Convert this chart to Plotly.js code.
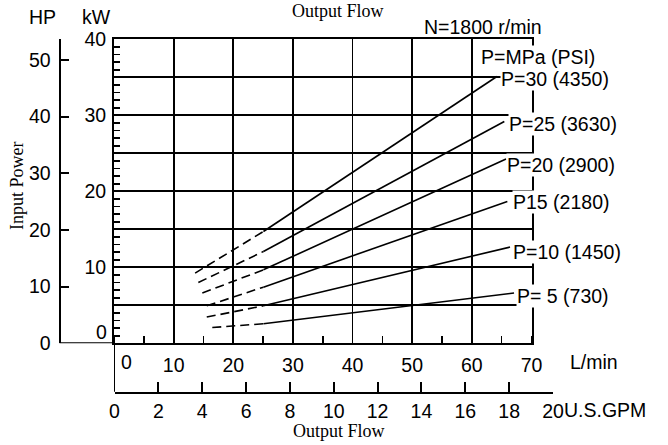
<!DOCTYPE html>
<html>
<head>
<meta charset="utf-8">
<script src="https://cdn.plot.ly/plotly-3.0.1.min.js"></script>
<style>html,body{margin:0;padding:0;background:#fff;}#chart{width:668px;height:445px;}</style>
</head>
<body>
<div id="chart"></div>
<script>
// ---- data ----
const flowTicks = [0, 10, 20, 30, 40, 50, 60, 70];
const flowTickText = ['', '10', '20', '30', '40', '50', '60', '70'];
const kwTicks = [0, 5, 10, 15, 20, 25, 30, 35, 40];
const kwTickText = ['', '', '10', '', '20', '', '30', '', '40'];
const hpTicks = [0, 10, 20, 30, 40, 50];
const gpmTicks = [0, 2, 4, 6, 8, 10, 12, 14, 16, 18, 20];

const pressureLabels = ['P=30 (4350)', 'P=25 (3630)', 'P=20 (2900)', 'P15 (2180)', 'P=10 (1450)', 'P= 5 (730)'];
// flow (L/min) and input power (kW); first segment dashed, rest solid
const p30Flow = [13.6, 25.05, 64.2];   const p30Kw = [9.24, 14.71, 35.1];
const p25Flow = [14.14, 25.05, 65.44]; const p25Kw = [8.0, 12.08, 29.18];
const p20Flow = [14.81, 25.05, 65.73]; const p20Kw = [6.61, 9.67, 24.24];
const p15Flow = [15.55, 25.05, 65.95]; const p15Kw = [4.93, 7.39, 18.66];
const p10Flow = [15.55, 25.05, 66.4];  const p10Kw = [3.45, 4.93, 12.66];
const p5Flow  = [16.48, 25.05, 67.07]; const p5Kw  = [2.08, 2.57, 6.61];

const KW_PER_HP = 0.7457;

// ---- layout helpers (pixels -> paper) ----
const W = 668, H = 445;
const px = v => v / W;
const py = v => 1 - v / H;

const SANS = 'Liberation Sans, Arial, sans-serif';
const SERIF = 'Liberation Serif, Times New Roman, serif';
const FS = 19.5;
const SFS = 18;

const curves = [[p30Flow, p30Kw], [p25Flow, p25Kw], [p20Flow, p20Kw], [p15Flow, p15Kw], [p10Flow, p10Kw], [p5Flow, p5Kw]];
const traces = [];
curves.forEach(([f, k], i) => {
  traces.push({x: f.slice(0, 2), y: k.slice(0, 2), mode: 'lines', line: {color: '#000', width: 1.6, dash: '9px,5px'}, hoverinfo: 'skip', showlegend: false, name: pressureLabels[i]});
  traces.push({x: f.slice(1), y: k.slice(1), mode: 'lines', line: {color: '#000', width: 1.6}, hoverinfo: 'skip', showlegend: false, name: pressureLabels[i]});
});
// invisible traces to host the HP axis and the GPM axis
traces.push({x: [0, 0], y: [0, 40 / KW_PER_HP], xaxis: 'x', yaxis: 'y2', mode: 'markers', marker: {opacity: 0}, hoverinfo: 'skip', showlegend: false});
traces.push({x: gpmTicks, y: gpmTicks.map(() => 0), xaxis: 'x2', yaxis: 'y3', mode: 'markers', marker: {opacity: 0}, hoverinfo: 'skip', showlegend: false});

const labelPos = [[500, 79.3], [508, 124], [505.5, 165], [511.5, 202], [511.5, 251.7], [515.5, 296]];
const annotations = [];
pressureLabels.forEach((t, i) => {
  annotations.push({text: t, xref: 'paper', yref: 'paper', x: px(labelPos[i][0]), y: py(labelPos[i][1]), xanchor: 'left', yanchor: 'middle', showarrow: false, bgcolor: '#fff', borderpad: 0, font: {family: SANS, size: FS, color: '#000'}});
});
const txt = (text, x, y, xa, opts) => Object.assign({text, xref: 'paper', yref: 'paper', x: px(x), y: py(y), xanchor: xa || 'center', yanchor: 'middle', showarrow: false, font: {family: SANS, size: FS, color: '#000'}}, opts || {});
annotations.push(txt('P=MPa (PSI)', 480, 57.3, 'left', {bgcolor: '#fff', borderpad: 0}));
annotations.push(txt('N=1800 r/min', 482.5, 27.3));
annotations.push(txt('HP', 42, 17.5));
annotations.push(txt('kW', 96.7, 17.5));
annotations.push(txt('Output Flow', 337.5, 11, 'center', {font: {family: SERIF, size: SFS, color: '#000'}}));
annotations.push(txt('Output Flow', 339, 431, 'center', {font: {family: SERIF, size: SFS, color: '#000'}}));
annotations.push(txt('Input Power', 17, 186, 'center', {textangle: -90, font: {family: SERIF, size: SFS, color: '#000'}}));
annotations.push(txt('L/min', 568, 361.7, 'left'));
annotations.push(txt('U.S.GPM', 562, 410, 'left'));
annotations.push(txt('0', 126.7, 361.7));
annotations.push(txt('0', 108.5, 331.5, 'right'));

const shapes = [
  // HP zero line joining HP axis to kW axis
  {type: 'line', xref: 'paper', yref: 'y', x0: px(59.5), x1: px(115), y0: 0, y1: 0, line: {color: '#000', width: 2}},
  // kW axis continued down to the GPM axis
  {type: 'line', xref: 'x', yref: 'paper', x0: 0, x1: 0, y0: py(343.3), y1: py(391.7), line: {color: '#000', width: 2}}
];

const layout = {
  width: W, height: H,
  margin: {l: 0, r: 0, t: 0, b: 0, pad: 0},
  paper_bgcolor: '#fff', plot_bgcolor: 'rgba(0,0,0,0)',
  font: {family: SANS, size: FS, color: '#000'},
  showlegend: false,
  xaxis: {
    domain: [px(114), px(531.5)], range: [0, 70], tickvals: flowTicks, ticktext: flowTickText,
    showgrid: true, gridcolor: '#000', gridwidth: 1.8, zeroline: false,
    showline: true, linecolor: '#000', linewidth: 2, mirror: true,
    ticks: '', ticklabelstandoff: 3,
    minor: {dtick: 5, tick0: 0, ticks: 'inside', ticklen: 7, tickcolor: '#000', tickwidth: 1.6, showgrid: false},
    tickfont: {family: SANS, size: FS, color: '#000'}, fixedrange: true
  },
  yaxis: {
    domain: [py(343.3), py(39.3)], range: [0, 40], tickvals: kwTicks, ticktext: kwTickText,
    showgrid: true, gridcolor: '#000', gridwidth: 1.8, zeroline: false,
    showline: true, linecolor: '#000', linewidth: 2, mirror: true,
    ticks: 'inside', ticklen: 6, tickwidth: 1.6, tickcolor: '#000', ticklabelstandoff: 2,
    minor: {dtick: 1, tick0: 0, ticks: 'inside', ticklen: 6, tickcolor: '#000', tickwidth: 1.6, showgrid: false},
    tickfont: {family: SANS, size: FS, color: '#000'}, fixedrange: true
  },
  yaxis2: {
    overlaying: 'y', anchor: 'free', position: px(59.5), side: 'left',
    range: [0, 40 / KW_PER_HP], tickvals: hpTicks,
    showgrid: false, zeroline: false, showline: true, linecolor: '#000', linewidth: 2,
    ticks: 'inside', ticklen: 8, tickwidth: 2, tickcolor: '#000', ticklabelstandoff: 4,
    tickfont: {family: SANS, size: FS, color: '#000'}, fixedrange: true
  },
  xaxis2: {
    domain: [px(114.5), px(553)], range: [0, 20], anchor: 'y3', tickvals: gpmTicks,
    showgrid: false, zeroline: false, showline: true, linecolor: '#000', linewidth: 2,
    ticks: 'inside', ticklen: 10, tickwidth: 2, tickcolor: '#000', ticklabelstandoff: 1,
    tickfont: {family: SANS, size: FS, color: '#000'}, fixedrange: true
  },
  yaxis3: {domain: [py(391.7), py(390)], range: [0, 1], visible: false, fixedrange: true},
  annotations, shapes
};

Plotly.newPlot('chart', traces, layout, {staticPlot: true, displayModeBar: false});
</script>
</body>
</html>
